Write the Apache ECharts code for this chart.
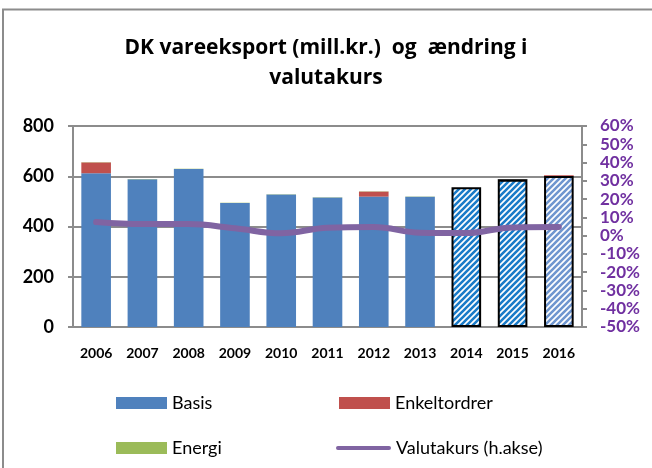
<!DOCTYPE html>
<html>
<head>
<meta charset="utf-8">
<script src="https://cdn.jsdelivr.net/npm/echarts@6/dist/echarts.min.js"></script>
<style>
  html, body { margin: 0; padding: 0; background: #fff; }
  #chart { width: 652px; height: 468px; }
</style>
</head>
<body>
<div id="chart"></div>
<script>
// data
const years = ['2006', '2007', '2008', '2009', '2010', '2011', '2012', '2013', '2014', '2015', '2016']
const basis = [612, 588, 629, 494, 527, 515, 519, 518, 556, 586, 601]
const enkeltordrer = [43, 0, 0, 0, 0, 0, 20, 0, 0, 3, 3]
const energi = [1, 1, 1, 1, 1, 1, 1, 1, 0, 0, 0]
const valutakurs = [7.4, 6.3, 6.3, 4.0, 1.3, 4.3, 4.7, 1.6, 1.4, 4.5, 4.7]
const leftTicks = { min: 0, max: 800, interval: 200 }
const rightTicks = { min: -50, max: 60, interval: 10 }
const forecastFrom = 8 // 2014 onwards is hatched

// diagonal stripes for the forecast bars
function stripes(color) {
  const c = document.createElement('canvas')
  c.width = 6
  c.height = 6
  const ctx = c.getContext('2d')
  ctx.fillStyle = '#ffffff'
  ctx.fillRect(0, 0, 6, 6)
  ctx.strokeStyle = color
  ctx.lineWidth = 2.6
  ctx.beginPath()
  ctx.moveTo(-1, 7); ctx.lineTo(7, -1)
  ctx.moveTo(-4, 4); ctx.lineTo(4, -4)
  ctx.moveTo(2, 10); ctx.lineTo(10, 2)
  ctx.stroke()
  return { image: c, repeat: 'repeat' }
}
const hatchBlue = stripes('#1A7BC8')
const hatchGrey = stripes('#6F96CF')

const basisData = basis.map(function(v, i) {
  if (i < forecastFrom) return v
  return {
    value: v,
    itemStyle: {
      color: i === years.length - 1 ? hatchGrey : hatchBlue,
      borderColor: '#000',
      borderWidth: 2
    }
  }
})
// the 2015 top shows up black, 2016 red
const enkeltData = enkeltordrer.map(function(v, i) {
  return years[i] === '2015' ? { value: v, itemStyle: { color: '#000' } } : v
})

const font = 'Lato, "Open Sans", sans-serif'
const titleFont = '"Open Sans", Lato, sans-serif'
const dom = echarts.init(document.getElementById('chart'))
const option = {
  animation: false,
  textStyle: { fontFamily: font },
  title: {
    text: 'DK vareeksport (mill.kr.)  og  ændring i\nvalutakurs',
    left: 'center',
    top: 28,
    textStyle: { fontSize: 21, fontWeight: 'bold', color: '#000', lineHeight: 30, fontFamily: titleFont }
  },
  graphic: [
    {
      type: 'polyline',
      shape: { points: [[3, 468], [3, 9.5], [652, 9.5]] },
      style: { stroke: '#8c8c8c', lineWidth: 2, fill: null }
    }
  ],
  legend: [
    {
      left: 111, top: 389, itemWidth: 51, itemHeight: 12,
      data: [{ name: 'Basis', icon: 'rect' }],
      textStyle: { fontSize: 18, color: '#000', fontFamily: font }
    },
    {
      left: 334, top: 389, itemWidth: 51, itemHeight: 12,
      data: [{ name: 'Enkeltordrer', icon: 'rect' }],
      textStyle: { fontSize: 18, color: '#000', fontFamily: font }
    },
    {
      left: 111, top: 434, itemWidth: 51, itemHeight: 12,
      data: [{ name: 'Energi', icon: 'rect' }],
      textStyle: { fontSize: 18, color: '#000', fontFamily: font }
    },
    {
      left: 331, top: 434, itemWidth: 55, itemHeight: 12,
      data: [{ name: 'Valutakurs (h.akse)', icon: 'path://M2,4 L54,4 A2,2 0 0 1 54,8 L2,8 A2,2 0 0 1 2,4 Z' }],
      textStyle: { fontSize: 18, color: '#000', fontFamily: font }
    }
  ],
  grid: { left: 73, right: 70, top: 126, bottom: 141 },
  xAxis: {
    type: 'category',
    data: years,
    axisTick: { show: false },
    axisLine: { lineStyle: { color: '#8c8c8c', width: 2 } },
    axisLabel: { color: '#000', fontWeight: 'bold', fontSize: 14, margin: 19, fontFamily: font }
  },
  yAxis: [
    {
      type: 'value',
      min: leftTicks.min,
      max: leftTicks.max,
      interval: leftTicks.interval,
      axisLine: { show: true, lineStyle: { color: '#8c8c8c', width: 2 } },
      axisTick: { show: true, length: 5, lineStyle: { color: '#8c8c8c', width: 2 } },
      splitLine: { show: true, lineStyle: { color: '#8c8c8c', width: 2 } },
      axisLabel: { color: '#000', fontWeight: 'bold', fontSize: 18, margin: 19, fontFamily: font }
    },
    {
      type: 'value',
      position: 'right',
      min: rightTicks.min,
      max: rightTicks.max,
      interval: rightTicks.interval,
      axisLine: { show: true, lineStyle: { color: '#8c8c8c', width: 2 } },
      axisTick: { show: true, length: 5, lineStyle: { color: '#8c8c8c', width: 2 } },
      splitLine: { show: false },
      axisLabel: {
        color: '#7030A0', fontWeight: 'bold', fontSize: 17, margin: 18, fontFamily: font,
        formatter: function(v) { return v + '%' }
      }
    }
  ],
  series: [
    {
      name: 'Basis',
      type: 'bar',
      stack: 'eksport',
      barWidth: '64%',
      itemStyle: { color: '#4F81BD' },
      data: basisData
    },
    {
      name: 'Enkeltordrer',
      type: 'bar',
      stack: 'eksport',
      itemStyle: { color: '#C0504D' },
      data: enkeltData
    },
    {
      name: 'Energi',
      type: 'bar',
      stack: 'eksport',
      itemStyle: { color: '#9BBB59' },
      data: energi
    },
    {
      name: 'Valutakurs (h.akse)',
      type: 'line',
      yAxisIndex: 1,
      smooth: 0.4,
      symbol: 'none',
      z: 5,
      itemStyle: { color: '#8064A2' },
      lineStyle: { color: '#8064A2', width: 6, cap: 'round' },
      data: valutakurs
    }
  ]
}
dom.setOption(option)
</script>
</body>
</html>
